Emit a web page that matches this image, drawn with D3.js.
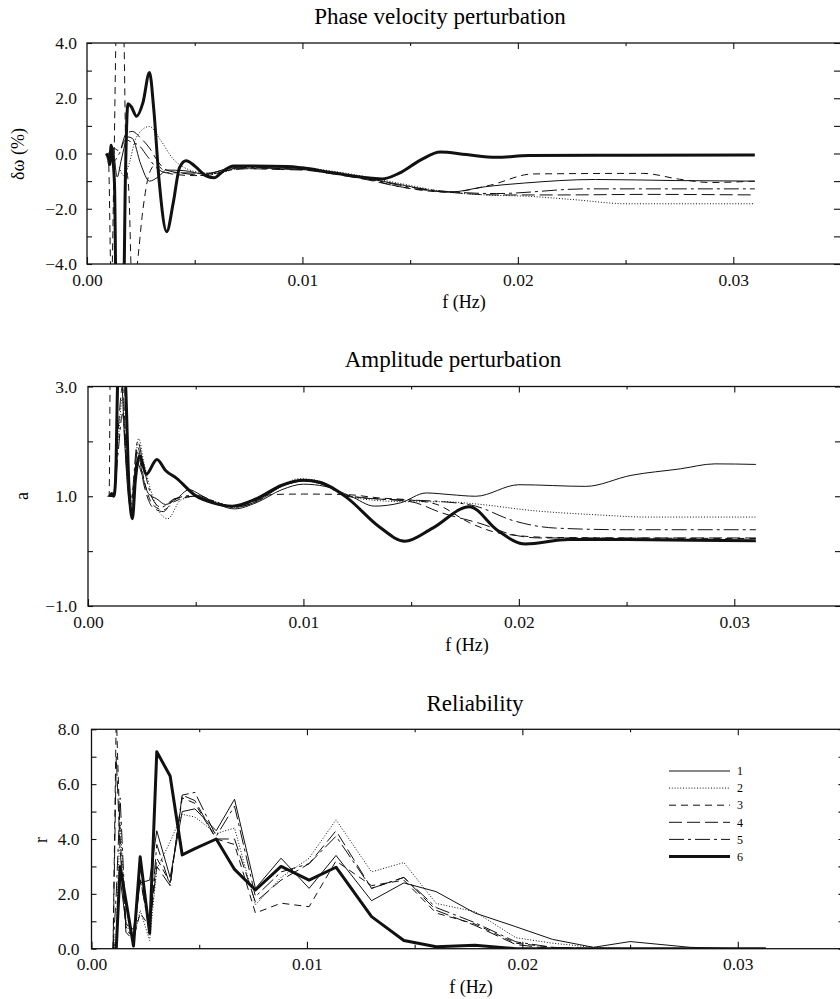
<!DOCTYPE html>
<html>
<head>
<meta charset="utf-8">
<script src="https://cdn.jsdelivr.net/npm/d3@7"></script>
<style>
  body { margin: 0; background: #fff; }
  svg { display: block; }
  svg text { font-family: "Liberation Serif", "DejaVu Serif", serif; }
</style>
</head>
<body>
<svg id="chart" width="840" height="999"></svg>
<script>
// frequencies are in mHz
const seriesNames = ["1", "2", "3", "4", "5", "6"];
const dashes = [null, "1,1.8", "7,5", "13,5", "15,4,3,4", null];
const widths = [1, 1, 1, 1, 1, 3];
const serif = 'Liberation Serif, DejaVu Serif, serif';

const xMajor = [0, 10, 20, 30];
const xMinor = [5, 15, 25];

// phase velocity perturbation (%)
const phase1 = [[1.0,-0.1],[1.2,0.2],[1.4,-0.85],[1.6,-0.2],[1.9,0.6],[2.1,0.55],[2.5,-0.4],[2.9,-1.0],[3.3,-0.85],[3.7,-0.6],[4.5,-0.62],[5.5,-0.75],[6.5,-0.55],[7.5,-0.48],[9.0,-0.55],[10.0,-0.58],[11.5,-0.72],[13.0,-0.9],[14.5,-1.12],[16.8,-1.4],[18.5,-1.2],[20.3,-1.07],[23.6,-0.94],[27.3,-0.98],[31.0,-1.0]];
const phase2 = [[1.5,-0.5],[1.7,-0.8],[1.9,-0.5],[2.3,0.6],[2.9,0.98],[3.4,0.5],[4.0,-0.2],[4.5,-0.5],[5.0,-0.65],[6.0,-0.72],[7.0,-0.55],[8.5,-0.5],[10.0,-0.52],[11.5,-0.65],[13.0,-0.85],[14.5,-1.08],[16.8,-1.4],[18.5,-1.5],[20.5,-1.55],[22.6,-1.67],[25.1,-1.82],[31.0,-1.82]];
const phase3 = [[0.9,0],[1.0,-0.3],[1.13,-5],[1.25,-0.5],[1.38,5],[1.55,5],[1.7,4.5],[1.8,0.2],[1.95,-1.5],[2.1,-5],[2.3,-4.2],[2.6,-2.0],[2.9,-0.7],[3.2,-0.4],[3.6,-0.65],[4.0,-0.75],[5.0,-0.8],[6.0,-0.72],[7.0,-0.55],[8.5,-0.55],[10.0,-0.58],[11.5,-0.72],[13.0,-0.92],[14.5,-1.2],[16.8,-1.4],[18.7,-1.15],[20.7,-0.74],[25.8,-0.72],[27.5,-0.93],[28.9,-1.05],[31.0,-1.0]];
const phase4 = [[1.0,0],[1.2,0.2],[1.5,0.1],[1.8,0.7],[2.1,0.8],[2.5,0.55],[2.9,0.2],[3.3,-0.3],[3.7,-0.6],[4.5,-0.72],[5.5,-0.8],[6.5,-0.62],[7.5,-0.55],[9.0,-0.58],[10.0,-0.6],[11.5,-0.75],[13.0,-0.95],[14.5,-1.2],[16.8,-1.4],[19.0,-1.5],[22.0,-1.5],[26.0,-1.48],[31.0,-1.5]];
const phase5 = [[1.0,0],[1.2,-0.3],[1.5,0.0],[1.8,0.5],[2.1,0.4],[2.4,0.3],[2.8,-0.1],[3.2,-0.5],[3.7,-0.7],[4.5,-0.7],[5.5,-0.72],[6.5,-0.58],[7.5,-0.5],[9.0,-0.55],[10.0,-0.56],[11.5,-0.7],[13.0,-0.9],[14.5,-1.15],[16.8,-1.38],[19.0,-1.45],[23.2,-1.28],[31.0,-1.28]];
const phase6 = [[0.9,0],[1.0,-0.2],[1.05,-0.4],[1.12,0.3],[1.2,-0.2],[1.28,-1.2],[1.35,-5],[1.7,-5],[1.78,-1.0],[1.9,1.8],[2.05,1.7],[2.3,1.35],[2.6,1.85],[2.9,2.93],[3.1,1.6],[3.35,-1.0],[3.7,-2.83],[4.0,-1.8],[4.3,-0.5],[4.6,-0.26],[5.0,-0.45],[5.5,-0.8],[5.9,-0.88],[6.3,-0.65],[6.8,-0.45],[7.5,-0.45],[9.3,-0.47],[10.0,-0.52],[11.4,-0.7],[13.7,-0.92],[14.5,-0.71],[15.5,-0.23],[16.4,0.05],[17.6,-0.04],[19.0,-0.14],[20.5,-0.07],[25.0,-0.06],[31.0,-0.05]];

// amplitude perturbation
const amp1 = [[1.0,1.0],[1.2,1.0],[1.35,2.5],[1.5,3.5],[1.7,2.0],[1.9,0.9],[2.05,0.7],[2.3,1.6],[2.5,1.4],[2.8,1.05],[3.2,0.95],[3.6,0.85],[4.1,0.95],[4.7,1.12],[5.2,1.03],[5.8,0.9],[6.8,0.77],[7.8,0.88],[9.0,1.12],[10.0,1.22],[11.0,1.18],[12.2,1.0],[13.3,0.82],[14.5,0.88],[15.7,1.06],[16.8,1.03],[18.0,1.0],[20.0,1.21],[23.1,1.18],[25.2,1.38],[27.5,1.5],[29.1,1.59],[31.0,1.58]];
const amp2 = [[1.0,1.0],[1.2,1.05],[1.4,2.0],[1.6,2.8],[1.8,1.4],[2.0,0.85],[2.35,2.05],[2.6,1.6],[3.0,1.0],[3.7,0.59],[4.3,0.93],[5.0,1.0],[5.8,0.92],[6.8,0.8],[7.8,0.92],[9.0,1.2],[9.8,1.32],[10.7,1.28],[12.0,1.02],[13.5,0.92],[15.0,0.9],[16.5,0.9],[18.0,0.86],[20.6,0.74],[23.7,0.66],[26.0,0.62],[31.0,0.62]];
const amp3 = [[0.9,1.0],[0.98,1.0],[1.03,3.3],[1.1,4.5],[1.5,4.5],[1.7,3.0],[1.9,1.2],[2.05,0.8],[2.3,1.9],[2.6,1.3],[3.0,0.85],[3.5,0.75],[4.0,0.9],[5.0,1.0],[6.0,0.88],[6.8,0.82],[7.8,0.92],[8.5,1.03],[10.0,1.04],[12.0,1.03],[13.5,0.97],[15.0,0.93],[16.2,0.85],[17.7,0.52],[19.2,0.32],[21.5,0.25],[31.0,0.23]];
const amp4 = [[1.0,1.0],[1.2,1.0],[1.4,2.2],[1.6,3.0],[1.8,1.6],[2.0,0.9],[2.3,1.8],[2.6,1.2],[3.0,0.8],[3.5,0.72],[4.0,0.95],[5.0,1.0],[5.8,0.9],[6.8,0.8],[7.8,0.9],[9.0,1.18],[10.0,1.28],[11.0,1.2],[12.0,1.02],[13.5,0.95],[15.0,0.9],[16.4,0.7],[18.4,0.48],[19.6,0.31],[21.0,0.24],[31.0,0.24]];
const amp5 = [[1.0,1.0],[1.2,1.0],[1.4,1.8],[1.6,2.5],[1.8,1.5],[2.0,0.95],[2.3,2.0],[2.6,1.5],[3.0,0.95],[3.4,0.8],[4.0,0.95],[5.0,1.02],[5.8,0.92],[6.8,0.8],[7.8,0.9],[9.0,1.18],[10.0,1.28],[11.0,1.2],[12.0,1.0],[13.5,0.95],[15.0,0.93],[16.5,0.9],[18.0,0.82],[19.7,0.56],[21.7,0.42],[25.0,0.39],[31.0,0.39]];
const amp6 = [[1.0,1.0],[1.1,1.05],[1.2,1.0],[1.28,1.3],[1.38,3.2],[1.5,4.2],[1.65,3.8],[1.75,3.0],[1.9,1.2],[2.06,0.59],[2.2,1.3],[2.4,1.74],[2.7,1.4],[3.2,1.67],[3.6,1.47],[4.1,1.33],[5.0,1.01],[5.8,0.88],[6.7,0.82],[7.8,0.95],[9.0,1.2],[10.0,1.29],[10.8,1.25],[12.0,0.98],[13.5,0.45],[14.7,0.18],[16.0,0.42],[17.7,0.81],[19.0,0.38],[20.3,0.13],[22.3,0.21],[25.0,0.21],[28.0,0.2],[31.0,0.19]];

// reliability, all series on one frequency grid
const relFreq = [1.00,1.15,1.33,1.60,1.95,2.26,2.70,3.03,3.65,4.21,4.80,5.79,6.64,7.61,8.80,10.10,11.35,13.00,14.50,16.00,17.80,19.70,21.40,23.30,25.00,27.80,30.00,31.30];
const rel1 = [0,0.3,2.6,0.9,0.7,2.4,2.5,4.3,2.6,5.0,5.1,4.3,5.45,2.2,3.3,2.2,3.4,1.75,2.4,2.08,1.3,0.8,0.34,0.05,0.26,0.05,0,0];
const rel2 = [0,0.6,4.6,1.0,0.3,1.4,0.3,2.9,3.9,4.9,4.8,4.2,4.4,1.6,2.6,3.3,4.7,2.8,3.14,1.65,1.35,0.4,0.2,0.05,0,0,0,0];
const rel3 = [0,8.6,4.0,0.7,0.4,1.3,0.8,3.3,2.4,5.5,5.3,4.0,3.8,1.3,1.66,1.53,3.2,2.3,2.5,1.3,0.9,0.2,0.05,0,0,0,0,0];
const rel4 = [0,7.0,3.6,0.6,0.3,2.5,0.8,3.0,2.3,5.6,5.4,4.0,4.0,1.7,2.5,3.1,4.3,2.2,2.6,1.4,0.85,0.15,0,0,0,0,0,0];
const rel5 = [0,2.0,5.5,0.8,0.4,2.6,0.6,3.8,2.3,5.6,5.7,4.1,5.2,1.9,2.8,3.1,4.1,2.2,2.6,1.5,0.95,0.25,0.05,0,0,0,0,0];
const rel6 = [0,0,3.0,1.74,0.1,3.35,0.56,7.18,6.3,3.42,3.65,4.0,2.89,2.14,3.0,2.5,2.97,1.17,0.3,0.07,0.13,0,0,0,0,0,0,0];


class Panel {

    constructor(svg, cfg) {
        this.svg = svg;
        this.cfg = cfg;
        this.width = 754;
        this.height = cfg.bottom - cfg.top;
    }

    initialize() {
        const c = this.cfg;
        this.g = this.svg.append('g')
            .attr('transform', `translate(${c.left}, ${c.top})`);

        this.xScale = d3.scaleLinear().domain([0, 35]).range([0, this.width]);
        this.yScale = d3.scaleLinear().domain(c.yDomain).range([this.height, 0]);

        this.g.append('clipPath').attr('id', 'clip-' + c.id)
            .append('rect')
            .attr('width', this.width)
            .attr('height', this.height);
        this.container = this.g.append('g').attr('clip-path', `url(#clip-${c.id})`);

        this.drawAxes();

        this.g.append('rect')
            .attr('width', this.width)
            .attr('height', this.height)
            .attr('fill', 'none')
            .attr('stroke', '#111')
            .attr('stroke-width', 1.3);

        this.svg.append('text')
            .attr('x', c.titleX).attr('y', c.titleY)
            .attr('text-anchor', 'middle')
            .attr('font-family', serif)
            .attr('font-size', 23)
            .text(c.title);

        this.svg.append('text')
            .attr('x', c.xLabelX).attr('y', c.xLabelY)
            .attr('text-anchor', 'middle')
            .attr('font-family', serif)
            .attr('font-size', 18)
            .text('f (Hz)');

        this.svg.append('text')
            .attr('transform', `translate(${c.yLabelX}, ${c.yLabelY}) rotate(-90)`)
            .attr('text-anchor', 'middle')
            .attr('font-family', serif)
            .attr('font-size', 18)
            .text(c.yLabel);
    }

    drawAxes() {
        const c = this.cfg;
        const style = g => {
            g.select('.domain').remove();
            g.attr('font-family', serif).attr('font-size', 17.5).attr('color', '#111');
            g.selectAll('line').attr('stroke-width', 1.1);
        };
        const fmtX = d => (d / 1000).toFixed(2);

        this.g.append('g')
            .attr('transform', `translate(0, ${this.height})`)
            .call(d3.axisBottom(this.xScale).tickValues(xMajor).tickFormat(fmtX)
                .tickSizeInner(-7).tickSizeOuter(0).tickPadding(c.xPad))
            .call(style);
        this.g.append('g')
            .attr('transform', `translate(0, ${this.height})`)
            .call(d3.axisBottom(this.xScale).tickValues(xMinor).tickFormat('')
                .tickSizeInner(-4).tickSizeOuter(0))
            .call(style);
        this.g.append('g')
            .call(d3.axisTop(this.xScale).tickValues(xMajor.slice(1)).tickFormat('')
                .tickSizeInner(-6).tickSizeOuter(0))
            .call(style);
        this.g.append('g')
            .call(d3.axisTop(this.xScale).tickValues(xMinor).tickFormat('')
                .tickSizeInner(-3).tickSizeOuter(0))
            .call(style);

        this.g.append('g')
            .call(d3.axisLeft(this.yScale).tickValues(c.yMajor).tickFormat(d3.format('.1f'))
                .tickSizeInner(-5).tickSizeOuter(0).tickPadding(c.yPad))
            .call(style);
        this.g.append('g')
            .call(d3.axisLeft(this.yScale).tickValues(c.yMinor).tickFormat('')
                .tickSizeInner(-5).tickSizeOuter(0))
            .call(style);
        this.g.append('g')
            .attr('transform', `translate(${this.width}, 0)`)
            .call(d3.axisRight(this.yScale).tickValues(c.yMajor.concat(c.yMinor)).tickFormat('')
                .tickSizeInner(-7).tickSizeOuter(0))
            .call(style);
    }

    update(series) {
        const line = d3.line()
            .x(d => this.xScale(d[0]))
            .y(d => this.yScale(d[1]))
            .curve(this.cfg.curve);

        this.container.selectAll('path')
            .data(series)
            .join('path')
            .attr('d', d => line(d))
            .attr('fill', 'none')
            .attr('stroke', '#111')
            .attr('stroke-width', (d, i) => widths[i])
            .attr('stroke-dasharray', (d, i) => dashes[i])
            .attr('stroke-linejoin', 'round');
    }

    legend(x1, x2, y0, step) {
        const rows = this.svg.append('g').selectAll('g')
            .data(seriesNames)
            .join('g')
            .attr('transform', (d, i) => `translate(0, ${y0 + i * step})`);
        rows.append('line')
            .attr('x1', x1).attr('x2', x2)
            .attr('stroke', '#111')
            .attr('stroke-width', (d, i) => widths[i])
            .attr('stroke-dasharray', (d, i) => dashes[i]);
        rows.append('text')
            .attr('x', x2 + 7)
            .attr('dy', '0.35em')
            .attr('font-family', serif)
            .attr('font-size', 12)
            .text(d => d);
    }
}

const svg = d3.select('#chart');

const phasePanel = new Panel(svg, {
    id: 'phase', top: 43, bottom: 264, left: 87,
    yDomain: [-4, 4], yMajor: [-4, -2, 0, 2, 4], yMinor: [-3, -1, 1, 3],
    xPad: 10, yPad: 10, curve: d3.curveMonotoneX,
    title: 'Phase velocity perturbation', titleX: 440, titleY: 24,
    xLabelX: 464, xLabelY: 308,
    yLabel: 'δω (%)', yLabelX: 24, yLabelY: 154
});
phasePanel.initialize();
phasePanel.update([phase1, phase2, phase3, phase4, phase5, phase6]);

const ampPanel = new Panel(svg, {
    id: 'amp', top: 386.5, bottom: 606, left: 88,
    yDomain: [-1, 3], yMajor: [-1, 1, 3], yMinor: [0, 2],
    xPad: 10, yPad: 11, curve: d3.curveMonotoneX,
    title: 'Amplitude perturbation', titleX: 453, titleY: 367,
    xLabelX: 467, xLabelY: 651,
    yLabel: 'a', yLabelX: 28, yLabelY: 496
});
ampPanel.initialize();
ampPanel.update([amp1, amp2, amp3, amp4, amp5, amp6]);

const relPanel = new Panel(svg, {
    id: 'rel', top: 729.3, bottom: 948.7, left: 91.5,
    yDomain: [0, 8], yMajor: [0, 2, 4, 6, 8], yMinor: [1, 3, 5, 7],
    xPad: 9, yPad: 12, curve: d3.curveLinear,
    title: 'Reliability', titleX: 475, titleY: 711,
    xLabelX: 471, xLabelY: 993,
    yLabel: 'r', yLabelX: 47, yLabelY: 840
});
relPanel.initialize();
const relSeries = [rel1, rel2, rel3, rel4, rel5, rel6]
    .map(vals => relFreq.map((f, j) => [f, vals[j]]));
relPanel.update(relSeries);
relPanel.legend(669, 730, 771, 17.1);
</script>
</body>
</html>
